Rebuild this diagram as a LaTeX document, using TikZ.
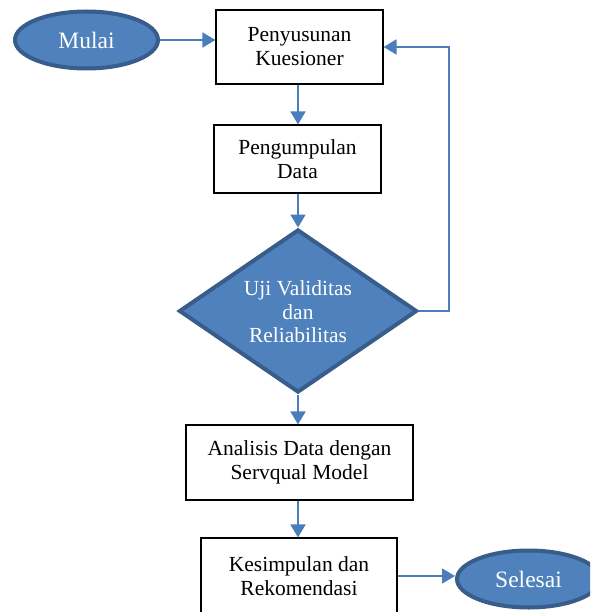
\documentclass[tikz,border=0pt]{standalone}
\usepackage{fontspec}
\setmainfont{Liberation Serif}
\usetikzlibrary{shapes.geometric,arrows.meta}
\definecolor{fillblue}{HTML}{4F81BD}
\definecolor{edgeblue}{HTML}{385D8A}
\definecolor{arrowblue}{HTML}{4A7EBB}
\tikzset{
  procbox/.style={draw=black,line width=1.1pt,fill=white,rectangle,inner sep=0pt,align=center,
    font=\fontsize{21.5}{24}\selectfont},
  termnode/.style={ellipse,draw=edgeblue,line width=4pt,fill=fillblue,inner sep=0pt,
    minimum width=143pt,minimum height=57pt,text=white,font=\fontsize{23.5}{26}\selectfont},
  decnode/.style={diamond,draw=edgeblue,line width=4pt,fill=fillblue,inner sep=0pt,
    minimum width=238pt,minimum height=163pt},
  declabel/.style={align=center,text=white,inner sep=0pt,font=\fontsize{21.5}{23.5}\selectfont},
  flow/.style={draw=arrowblue,line width=1.8pt,-{Triangle[length=13pt,width=15pt]}},
}
\begin{document}
\begin{tikzpicture}[x=1pt,y=-1pt]
\useasboundingbox (0,0) rectangle (590,612);
\clip (0,0) rectangle (590,612);
\node[termnode] (mulai) at (86.5,40) {Mulai};
\node[procbox,minimum width=167pt,minimum height=74pt] (b1) at (299.5,47) {Penyusunan\\Kuesioner};
\node[procbox,minimum width=167pt,minimum height=68pt] (b2) at (297.5,159) {Pengumpulan\\Data};
\node[decnode] (dec) at (298,311) {};
\node[declabel] (declab) at (298,312) {Uji Validitas\\dan\\Reliabilitas};
\node[procbox,minimum width=227pt,minimum height=75pt] (b3) at (299.5,462.5) {Analisis Data dengan\\Servqual Model};
\node[procbox,minimum width=196pt,minimum height=76pt] (b4) at (299,576) {Kesimpulan dan\\Rekomendasi};
\node[termnode] (selesai) at (528.5,579) {Selesai};
\draw[flow] (mulai.east) -- (b1.west |- mulai.east);
\draw[flow] (b1.south -| dec.north) -- (b2.north -| dec.north);
\draw[flow] (b2.south -| dec.north) -- (dec.north);
\draw[flow] (dec.east) -- ++(30,0) |- (b1.east);
\draw[flow] (dec.south) -- (b3.north -| dec.south);
\draw[flow] (b3.south -| dec.south) -- (b4.north -| dec.south);
\draw[flow] (b4.east) -- (selesai.west |- b4.east);
\end{tikzpicture}
\end{document}
